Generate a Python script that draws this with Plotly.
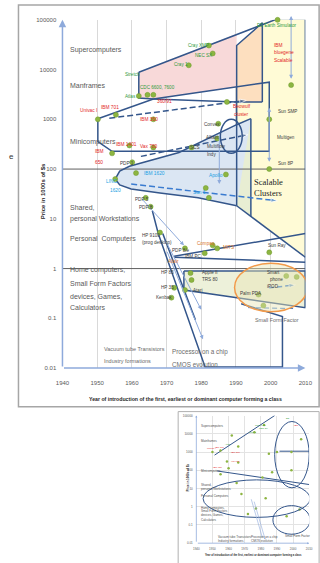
import numpy as np
import plotly.graph_objects as go

FONT = "Liberation Sans"
SERIF = "Liberation Serif"
DARK = "#34568b"
LIGHT = "#8eaadb"
GRID = "#d9d9d9"
TXT = "#595959"
DOT = "#8db542"
RED = "#e3261f"
GREEN = "#2f9a3c"
CYAN = "#1d9fe3"
ORANGE = "#d9772a"
INK = "#404040"

# ---------------- axes ----------------
year_ticks = [1940, 1950, 1960, 1970, 1980, 1990, 2000, 2010]
price_ticks = [0.01, 0.1, 1, 10, 100, 1000, 10000, 100000]
price_tick_text = ["0.01", "0.1", "1", "10", "100", "1000", "10000", "100000"]

# ---------------- class regions (year, price in $1000s) ----------------
super_years = [1962.0, 1990.2, 1990.2, 1966.2, 1962.0]
super_prices = [8830, 52700, 4450, 2570, 2690]

peak_years = [1990.2, 1997.6, 1997.6, 1990.2]
peak_prices = [30400, 87100, 2240, 2240]

cluster_years = [1997.6, 2002.0, 2010.0, 2010.0, 1990.2, 1990.2, 1997.6]
cluster_prices = [87100, 104700, 104700, 1.69, 18.3, 2240, 2240]

strip_years = [1990.2, 1994.3, 1994.3, 1990.2]
strip_prices = [780, 1030, 11.0, 18.3]

ws_years = [1994.3, 1990.2, 1973.6, 1964.0, 1959.3, 1956.5, 1955.2, 1956.5,
            1959.8, 1968.1, 1979.1, 1990.2]
ws_prices = [1030, 780, 216, 144, 114, 91, 63, 48, 39.8, 33.1, 26.4, 18.3]

sff_years = [1975.0, 2010.0, 2010.0, 1975.0, 1975.0]
sff_prices = [0.89, 0.89, 0.164, 0.37, 0.89]

main_years = [1950.2, 1966.2, 1999.6, 1999.6, 1954.3, 1950.2, 1950.2]
main_prices = [1030, 2570, 5590, 227, 227, 358, 1030]

top_years = [1962.0, 2002.0, 2010.0, 2010.0]
top_prices = [8830, 104700, 104700, 0.164]

shelf_years = [1962.0, 1962.0, 1966.2, 1990.2, 1997.6]
shelf_prices = [8830, 2690, 2570, 2240, 2240]

peak_edge_years = [1990.2, 1990.2, 1997.6, 1997.6]
peak_edge_prices = [18.3, 30400, 87100, 2240]

slope_years = [1990.2, 2010.0]
slope_prices = [18.3, 1.69]

pc_upper_years = [1972.2, 2010.0]
pc_upper_prices = [1.77, 5.07]
pc_lower_years = [1972.2, 2010.0]
pc_lower_prices = [1.69, 1.34]

chip_years = [1965.9, 1967.6, 1981.1, 2003.4, 2003.4, 1991.5]
chip_prices = [14.5, 5.07, 0.0105, 0.0105, 0.108, 0.196]
chip_inner_years = [1968.9, 1978.3]
chip_inner_prices = [5.07, 0.094]

# dashed trend lines
trend_main_years = [1953.5, 1993.0]
trend_main_prices = [1050, 2400]
trend_mini_years = [1962.6, 1993.5]
trend_mini_prices = [180, 493]
trend_ws_years = [1959.8, 2002.0]
trend_ws_prices = [50, 23]
trend_sff_years = [1999.6, 2007.2]
trend_sff_prices = [0.41, 0.47]
trend_sff2_years = [1993.5, 2006.7]
trend_sff2_prices = [0.164, 0.157]

# light-blue migration arrows: (from year, from price, to year, to price, both ends)
migrations = [
    (2005.9, 6100, 2005.9, 120000, True),
    (1999.6, 131, 1999.6, 1700, True),
    (1985.2, 493, 1985.2, 50, False),
    (1962.6, 26.4, 1975.0, 2.93, False),
    (1969.5, 3.85, 1980.0, 0.149, False),
    (1970.0, 2.33, 1980.5, 0.038, False),
]

# ellipses: (year0, year1, price0, price1)
minisuper_oval = (1985.5, 1991.8, 207, 1000)
handheld_oval = (1989.6, 2010.6, 0.136, 1.28)

# computers (year, price)
machine_years = [2002.0, 1982.2, 1983.3, 1976.4, 1962.0, 1964.5, 1966.2, 2005.9,
                 1999.6, 1999.6, 1987.4, 1950.2, 1955.4, 1966.2, 1959.3, 1954.3,
                 1966.2, 1960.1, 1961.2, 1955.2, 1964.0, 1965.4, 1984.9, 1984.6,
                 1977.2, 1987.1, 1981.3, 1982.2, 1968.1, 1975.3, 1983.3, 1984.6,
                 1999.6, 1976.9, 1977.2, 1975.3, 1972.2, 1971.4, 1996.5, 2004.5,
                 2007.5, 1997.9, 1981.0]
machine_prices = [100000, 30400, 21100, 12200, 2950, 3100, 3100, 4870,
                  1000, 100, 2240, 1000, 1230, 1000, 298, 207,
                  272, 137, 83, 63, 26.4, 17.5, 817, 411,
                  272, 78, 41.7, 26.4, 5.3, 2.55, 2.93, 2.55,
                  2.12, 0.81, 0.59, 0.37, 0.41, 0.26, 0.30, 0.71,
                  0.68, 0.18, 2.03]

# labels (text, year, price)
class_notes = [
    ("Supercomputers", 1941.9, 24200),
    ("Manframes", 1941.9, 4870),
    ("Minicomputers", 1941.9, 358),
    ("Shared,", 1941.9, 16.7),
    ("personal Workstations", 1941.9, 10),
    ("Personal  Computers", 1941.9, 3.85),
    ("Home computers,", 1941.9, 0.93),
    ("Small Form Factors", 1941.9, 0.51),
    ("devices, Games,", 1941.9, 0.28),
    ("Calculators", 1941.9, 0.164),
]
era_notes = [
    ("Vacuum tube Transistors", 1951.6, 0.024, 5.5),
    ("Industry formations", 1951.6, 0.0138, 5.5),
    ("Processor on a chip", 1971.4, 0.021, 6.3),
    ("CMOS evolution", 1971.4, 0.012, 6.3),
    ("Small Form Factor", 1995.1, 0.094, 5.3),
]
green_notes = [
    ("ES Earth Simulator", 1995.7, 76000),
    ("Cray XMP", 1975.8, 30400),
    ("NEC SX", 1978.0, 19200),
    ("Cray 1", 1972.0, 12700),
    ("Stretch", 1957.6, 8060),
    ("Atlas", 1957.6, 2810),
    ("CDC 6600, 7600", 1962.0, 4450),
]
red_notes = [
    ("Univac I", 1944.7, 1480),
    ("IBM 701", 1950.7, 1700),
    ("IBM 360", 1962.0, 1000),
    ("360/91", 1967.0, 2300),
    ("IBM 1401", 1955.0, 312),
    ("IBM", 1949.2, 227),
    ("650", 1949.2, 137),
    ("Vax 780", 1962.0, 285),
    ("IBM", 2000.6, 30400),
    ("bluegene", 2000.6, 22100),
    ("Scalable", 2000.6, 15300),
    ("Beowulf", 1988.8, 1780),
    ("cluster", 1989.2, 1230),
]
cyan_notes = [
    ("LINC", 1952.4, 57.4),
    ("1620", 1953.5, 37.5),
    ("IBM 1620", 1963.1, 82.8),
    ("Apollo", 1981.9, 75.5),
    ("Sun 1", 1977.2, 33.1),
]
ink_notes = [
    ("PDP 1", 1956.3, 131),
    ("PDP 5", 1960.7, 24),
    ("PDP 8", 1961.8, 16.7),
    ("Convex", 1980.5, 780),
    ("Alliant", 1981.0, 431),
    ("SCS", 1976.4, 272),
    ("Multiflow", 1981.3, 285),
    ("Indy", 1981.3, 196),
    ("Sun SMP", 2001.7, 1420),
    ("Multigen", 2001.4, 431),
    ("Sun 8P", 2001.7, 131),
    ("HP 9100", 1962.6, 4.62),
    ("(prog desktop)", 1962.6, 3.36),
    ("PDP 8/e", 1971.4, 2.33),
    ("IBM PC", 1974.9, 1.77),
    ("HP 85", 1968.1, 0.85),
    ("Apple II", 1980.0, 0.85),
    ("TRS 80", 1980.0, 0.59),
    ("Atari", 1977.2, 0.37),
    ("HP 35", 1968.1, 0.41),
    ("Kenbak", 1966.7, 0.26),
    ("Sun Ray", 1999.0, 2.9),
    ("Palm PDA", 1991.0, 0.31),
    ("Smart", 1998.7, 0.85),
    ("phone", 1999.5, 0.61),
    ("iPOD", 1998.7, 0.43),
    ("iPhone", 2010.6, 0.68),
]
orange_notes = [
    ("Compaq", 1978.6, 3.2),
    ("MITS", 1986.0, 2.64),
    ("Altair", 1970.0, 1.4),
]

# ---------------- overview inset ----------------
mini_class_notes = [
    ("Supercomputers", 1942.4, 25300),
    ("Mainframes", 1942.4, 3880),
    ("Minicomputers", 1942.4, 91),
    ("Shared,", 1942.4, 15.9),
    ("personal Workstations", 1942.4, 9.7),
    ("Personal Computers", 1942.4, 4.0),
    ("Home computers,", 1942.4, 0.9),
    ("Small Form Factors", 1942.4, 0.55),
    ("devices, Games,", 1942.4, 0.33),
    ("Calculators", 1942.4, 0.18),
    ("Vacuum tube Transistors", 1953.0, 0.021),
    ("Industry formations", 1953.0, 0.013),
    ("Processor on a chip", 1973.2, 0.021),
    ("CMOS evolution", 1973.2, 0.013),
    ("Small Form Factor", 1994.6, 0.026),
]
mini_ovals = [
    (1988.6, 2010.0, 10.9, 47200),
    (1944.2, 2010.6, 0.26, 29.7),
    (1987.5, 2010.6, 0.031, 1.15),
]
mini_line1_years = [1951.3, 1988.6]
mini_line1_prices = [676, 100000]
mini_line2_years = [1953.0, 2010.0]
mini_line2_prices = [91, 16.5]
mini_line3_years = [1991.6, 2010.0]
mini_line3_prices = [1110, 1110]
mini_arrow_years = [(1973.8, 1980.9), (1975.6, 1982.7)]
mini_arrow_prices = [(3.1, 0.021), (2.3, 0.016)]
mini_dot_years = [1962, 1966, 1976, 1982, 1985, 1990, 1999, 1999, 1960, 1965,
                  1968, 1977, 1983, 1996, 2004, 1955, 1950, 1955, 1959, 1966,
                  2005, 1987, 1981, 1972]
mini_dot_prices = [8000, 2000, 12000, 30000, 800, 1000, 1000, 100, 130, 20,
                   5, 0.8, 2.9, 0.3, 0.7, 60, 1000, 1200, 300, 270,
                   5000, 78, 40, 0.4]
mini_red_notes = [("Univac I", 1946, 1500), ("IBM 701", 1951, 1800), ("IBM 360", 1961, 1000),
                  ("Vax 780", 1961, 300), ("IBM 650", 1950, 150), ("IBM", 2000, 30000)]
mini_green_notes = [("Cray 1", 1972, 12000), ("NEC SX", 1978, 20000), ("Cray XMP", 1976, 30000),
                    ("ES", 1995, 70000), ("Atlas", 1957, 2500)]

fig = go.Figure()
annotations = []
shapes = []


def lg(p):
    return float(np.log10(p))


def area(xs, ys, color, axes=("x", "y")):
    fig.add_trace(go.Scatter(x=xs, y=ys, fill="toself", fillcolor=color, mode="lines",
                             line=dict(width=0), hoverinfo="skip",
                             xaxis=axes[0], yaxis=axes[1]))


def path(xs, ys, color=DARK, width=1.5, dash="solid", arrow=False, axes=("x", "y")):
    n = len(xs)
    if arrow:
        fig.add_trace(go.Scatter(
            x=xs, y=ys, mode="lines+markers",
            line=dict(color=color, width=width, dash=dash),
            marker=dict(symbol="arrow", angleref="previous", color=color,
                        size=[0] * (n - 1) + [7]),
            hoverinfo="skip", cliponaxis=False, xaxis=axes[0], yaxis=axes[1]))
    else:
        fig.add_trace(go.Scatter(x=xs, y=ys, mode="lines",
                                 line=dict(color=color, width=width, dash=dash),
                                 hoverinfo="skip", xaxis=axes[0], yaxis=axes[1]))


def note(text, x, y, color, size, family=FONT, xanchor="left", axes=("x", "y"), angle=0):
    annotations.append(dict(text=text, x=x, y=lg(y), xref=axes[0], yref=axes[1],
                            showarrow=False, xanchor=xanchor, yanchor="middle",
                            borderpad=0, textangle=angle,
                            font=dict(size=size, color=color, family=family)))


def arrow(x0, p0, x1, p1, color=LIGHT, width=1.0, both=False, axes=("x", "y"), head=0.8):
    annotations.append(dict(x=x1, y=lg(p1), ax=x0, ay=lg(p0), xref=axes[0], yref=axes[1],
                            axref=axes[0], ayref=axes[1], text="", showarrow=True,
                            arrowhead=2, arrowsize=head, arrowwidth=width, arrowcolor=color,
                            startarrowhead=2, startarrowsize=head,
                            arrowside="end+start" if both else "end",
                            standoff=0, startstandoff=0))


def oval(box, line_color, width=1.5, fill="rgba(0,0,0,0)", axes=("x", "y")):
    x0, x1, p0, p1 = box
    shapes.append(dict(type="circle", xref=axes[0], yref=axes[1], x0=x0, x1=x1,
                       y0=p0, y1=p1, line=dict(color=line_color, width=width),
                       fillcolor=fill, layer="above"))


# ---------------- main chart ----------------
area(cluster_years, cluster_prices, "#fffbd6")
area(peak_years, peak_prices, "#fddfbf")
area(super_years, super_prices, "#f8d9d9")
area(strip_years, strip_prices, "#e8eed3")
area(ws_years, ws_prices, "#dbe6f3")
area(sff_years, sff_prices, "#edf1da")

path([1940, 2010], [100, 100], color="#5f5f5f", width=1)
path([1940, 2010], [1, 1], color="#5f5f5f", width=1)

path(top_years, top_prices)
path(shelf_years, shelf_prices)
path(peak_edge_years, peak_edge_prices)
path(slope_years, slope_prices)
path(main_years, main_prices)
path(ws_years, ws_prices)
path([strip_years[1], strip_years[2]], [strip_prices[1], strip_prices[2]])
path(pc_upper_years, pc_upper_prices)
path(pc_lower_years, pc_lower_prices)
path(sff_years, sff_prices)
path(chip_years, chip_prices)
path(chip_inner_years, chip_inner_prices)

path(trend_main_years, trend_main_prices, dash="6px,3px", arrow=True)
path(trend_mini_years, trend_mini_prices, dash="6px,3px", arrow=True)
path(trend_ws_years, trend_ws_prices, color="#3a7bd0", dash="6px,3px", arrow=True)
path(trend_sff_years, trend_sff_prices, color="#3a7bd0", dash="5px,3px", arrow=True)
path(trend_sff2_years, trend_sff2_prices, color="#3a7bd0", dash="5px,3px", width=1)

for x0, p0, x1, p1, both in migrations:
    arrow(x0, p0, x1, p1, both=both)

# axis arrows
arrow(1940, 0.01, 1940, 100000, width=1.5, head=1.0)
arrow(1940, 0.01, 2010, 0.01, width=1.5, head=1.0)

oval(minisuper_oval, DARK)
oval(handheld_oval, "#f29a4a", fill="rgba(232,228,180,0.45)")

fig.add_trace(go.Scatter(x=machine_years, y=machine_prices, mode="markers",
                         marker=dict(size=5, color=DOT, line=dict(color="#6e9b2d", width=0.5)),
                         cliponaxis=False, hoverinfo="skip"))

for t, x, y in class_notes:
    note(t, x, y, TXT, 7)
for t, x, y, s in era_notes:
    note(t, x, y, "#6b6b6b", s)
for t, x, y in green_notes:
    note(t, x, y, GREEN, 4.6)
for t, x, y in red_notes:
    note(t, x, y, RED, 4.8)
for t, x, y in cyan_notes:
    note(t, x, y, CYAN, 4.8)
for t, x, y in ink_notes:
    note(t, x, y, INK, 4.6)
for t, x, y in orange_notes:
    note(t, x, y, ORANGE, 4.6)
note("Scalable", 1999.3, 54.8, "#222222", 8.5, family=SERIF, xanchor="center")
note("Clusters", 1999.3, 33.0, "#222222", 8.5, family=SERIF, xanchor="center")

# ---------------- overview inset ----------------
inset = ("x2", "y2")
path(mini_line1_years, mini_line1_prices, width=1, axes=inset)
path(mini_line2_years, mini_line2_prices, width=1, axes=inset)
path(mini_line3_years, mini_line3_prices, width=1, axes=inset)
for (xa, xb), (pa, pb) in zip(mini_arrow_years, mini_arrow_prices):
    arrow(xa, pa, xb, pb, width=0.6, axes=inset, head=0.5)
arrow(1940, 0.01, 1940, 100000, width=0.8, axes=inset, head=0.5)
arrow(1940, 0.01, 2010, 0.01, width=0.8, axes=inset, head=0.5)
for box in mini_ovals:
    oval(box, DARK, width=1, axes=inset)
fig.add_trace(go.Scatter(x=mini_dot_years, y=mini_dot_prices, mode="markers",
                         marker=dict(size=2.5, color=DOT), xaxis="x2", yaxis="y2",
                         hoverinfo="skip"))
for t, x, y in mini_class_notes:
    note(t, x, y, "#505050", 3.0, axes=inset)
for t, x, y in mini_red_notes:
    note(t, x, y, RED, 2.4, axes=inset)
for t, x, y in mini_green_notes:
    note(t, x, y, GREEN, 2.4, axes=inset)

# ---------------- frames and titles ----------------
shapes.append(dict(type="rect", xref="paper", yref="paper", x0=12 / 320, x1=1.02,
                   y0=1 - 408 / 563, y1=1 - 2 / 563, line=dict(color="#a6a6a6", width=1.5),
                   layer="below"))
shapes.append(dict(type="rect", xref="paper", yref="paper", x0=179 / 320, x1=1.02,
                   y0=-0.02, y1=1 - 413 / 563, line=dict(color="#b0b0b0", width=1),
                   layer="below"))

annotations.append(dict(text="<b>Year of introduction of the first, earliest or dominant computer forming a class</b>",
                        x=187 / 320, y=1 - 400 / 563, xref="paper", yref="paper", showarrow=False,
                        xanchor="center", yanchor="middle", font=dict(size=5.2, color="#262626", family=FONT)))
annotations.append(dict(text="<b>Price in 1000s of $s</b>", x=38 / 320, y=1 - 190 / 563,
                        xref="paper", yref="paper", showarrow=False, textangle=-90,
                        xanchor="center", yanchor="middle", font=dict(size=6, color="#262626", family=FONT)))
annotations.append(dict(text="e", x=0.0, y=1 - 155 / 563, xref="paper", yref="paper",
                        showarrow=False, xanchor="left", yanchor="middle",
                        font=dict(size=8, color="#333333", family=FONT)))
annotations.append(dict(text="<b>Year of introduction of the first, earliest or dominant computer forming a class</b>",
                        x=258 / 320, y=1 - 558 / 563, xref="paper", yref="paper", showarrow=False,
                        xanchor="center", yanchor="middle", font=dict(size=2.6, color="#262626", family=FONT)))
annotations.append(dict(text="<b>Price in 1000s of $s</b>", x=189 / 320, y=1 - 480 / 563,
                        xref="paper", yref="paper", showarrow=False, textangle=-90,
                        xanchor="center", yanchor="middle", font=dict(size=3, color="#262626", family=FONT)))

fig.update_layout(
    width=320, height=563, margin=dict(l=0, r=0, t=0, b=0),
    paper_bgcolor="white", plot_bgcolor="rgba(0,0,0,0)",
    showlegend=False, font=dict(family=FONT),
    annotations=annotations, shapes=shapes,
    xaxis=dict(domain=[58 / 320, 312 / 320], range=[1940, 2010], tickvals=year_ticks,
               showgrid=True, gridcolor=GRID, gridwidth=1, zeroline=False, showline=False,
               ticks="outside", ticklen=9, tickcolor="rgba(0,0,0,0)",
               tickfont=dict(size=6, color=TXT), anchor="y"),
    yaxis=dict(domain=[1 - 369 / 563, 1 - 17 / 563], type="log", range=[-2, 5],
               tickvals=price_ticks, ticktext=price_tick_text, showgrid=False,
               zeroline=False, showline=False, ticks="outside", ticklen=4,
               tickcolor="rgba(0,0,0,0)", tickfont=dict(size=6, color=TXT), anchor="x"),
    xaxis2=dict(domain=[198 / 320, 316 / 320], range=[1940, 2010], tickvals=year_ticks,
                showgrid=True, gridcolor="#e3e3e3", gridwidth=0.6, zeroline=False,
                showline=False, ticks="outside", ticklen=2, tickcolor="rgba(0,0,0,0)",
                tickfont=dict(size=3, color=TXT), anchor="y2"),
    yaxis2=dict(domain=[1 - 546 / 563, 1 - 417 / 563], type="log", range=[-2, 5],
                tickvals=price_ticks, ticktext=price_tick_text, showgrid=True,
                gridcolor="#e3e3e3", gridwidth=0.6, zeroline=False, showline=False,
                ticks="outside", ticklen=2, tickcolor="rgba(0,0,0,0)",
                tickfont=dict(size=3, color=TXT), anchor="x2"),
)

fig.write_html("out.html")
